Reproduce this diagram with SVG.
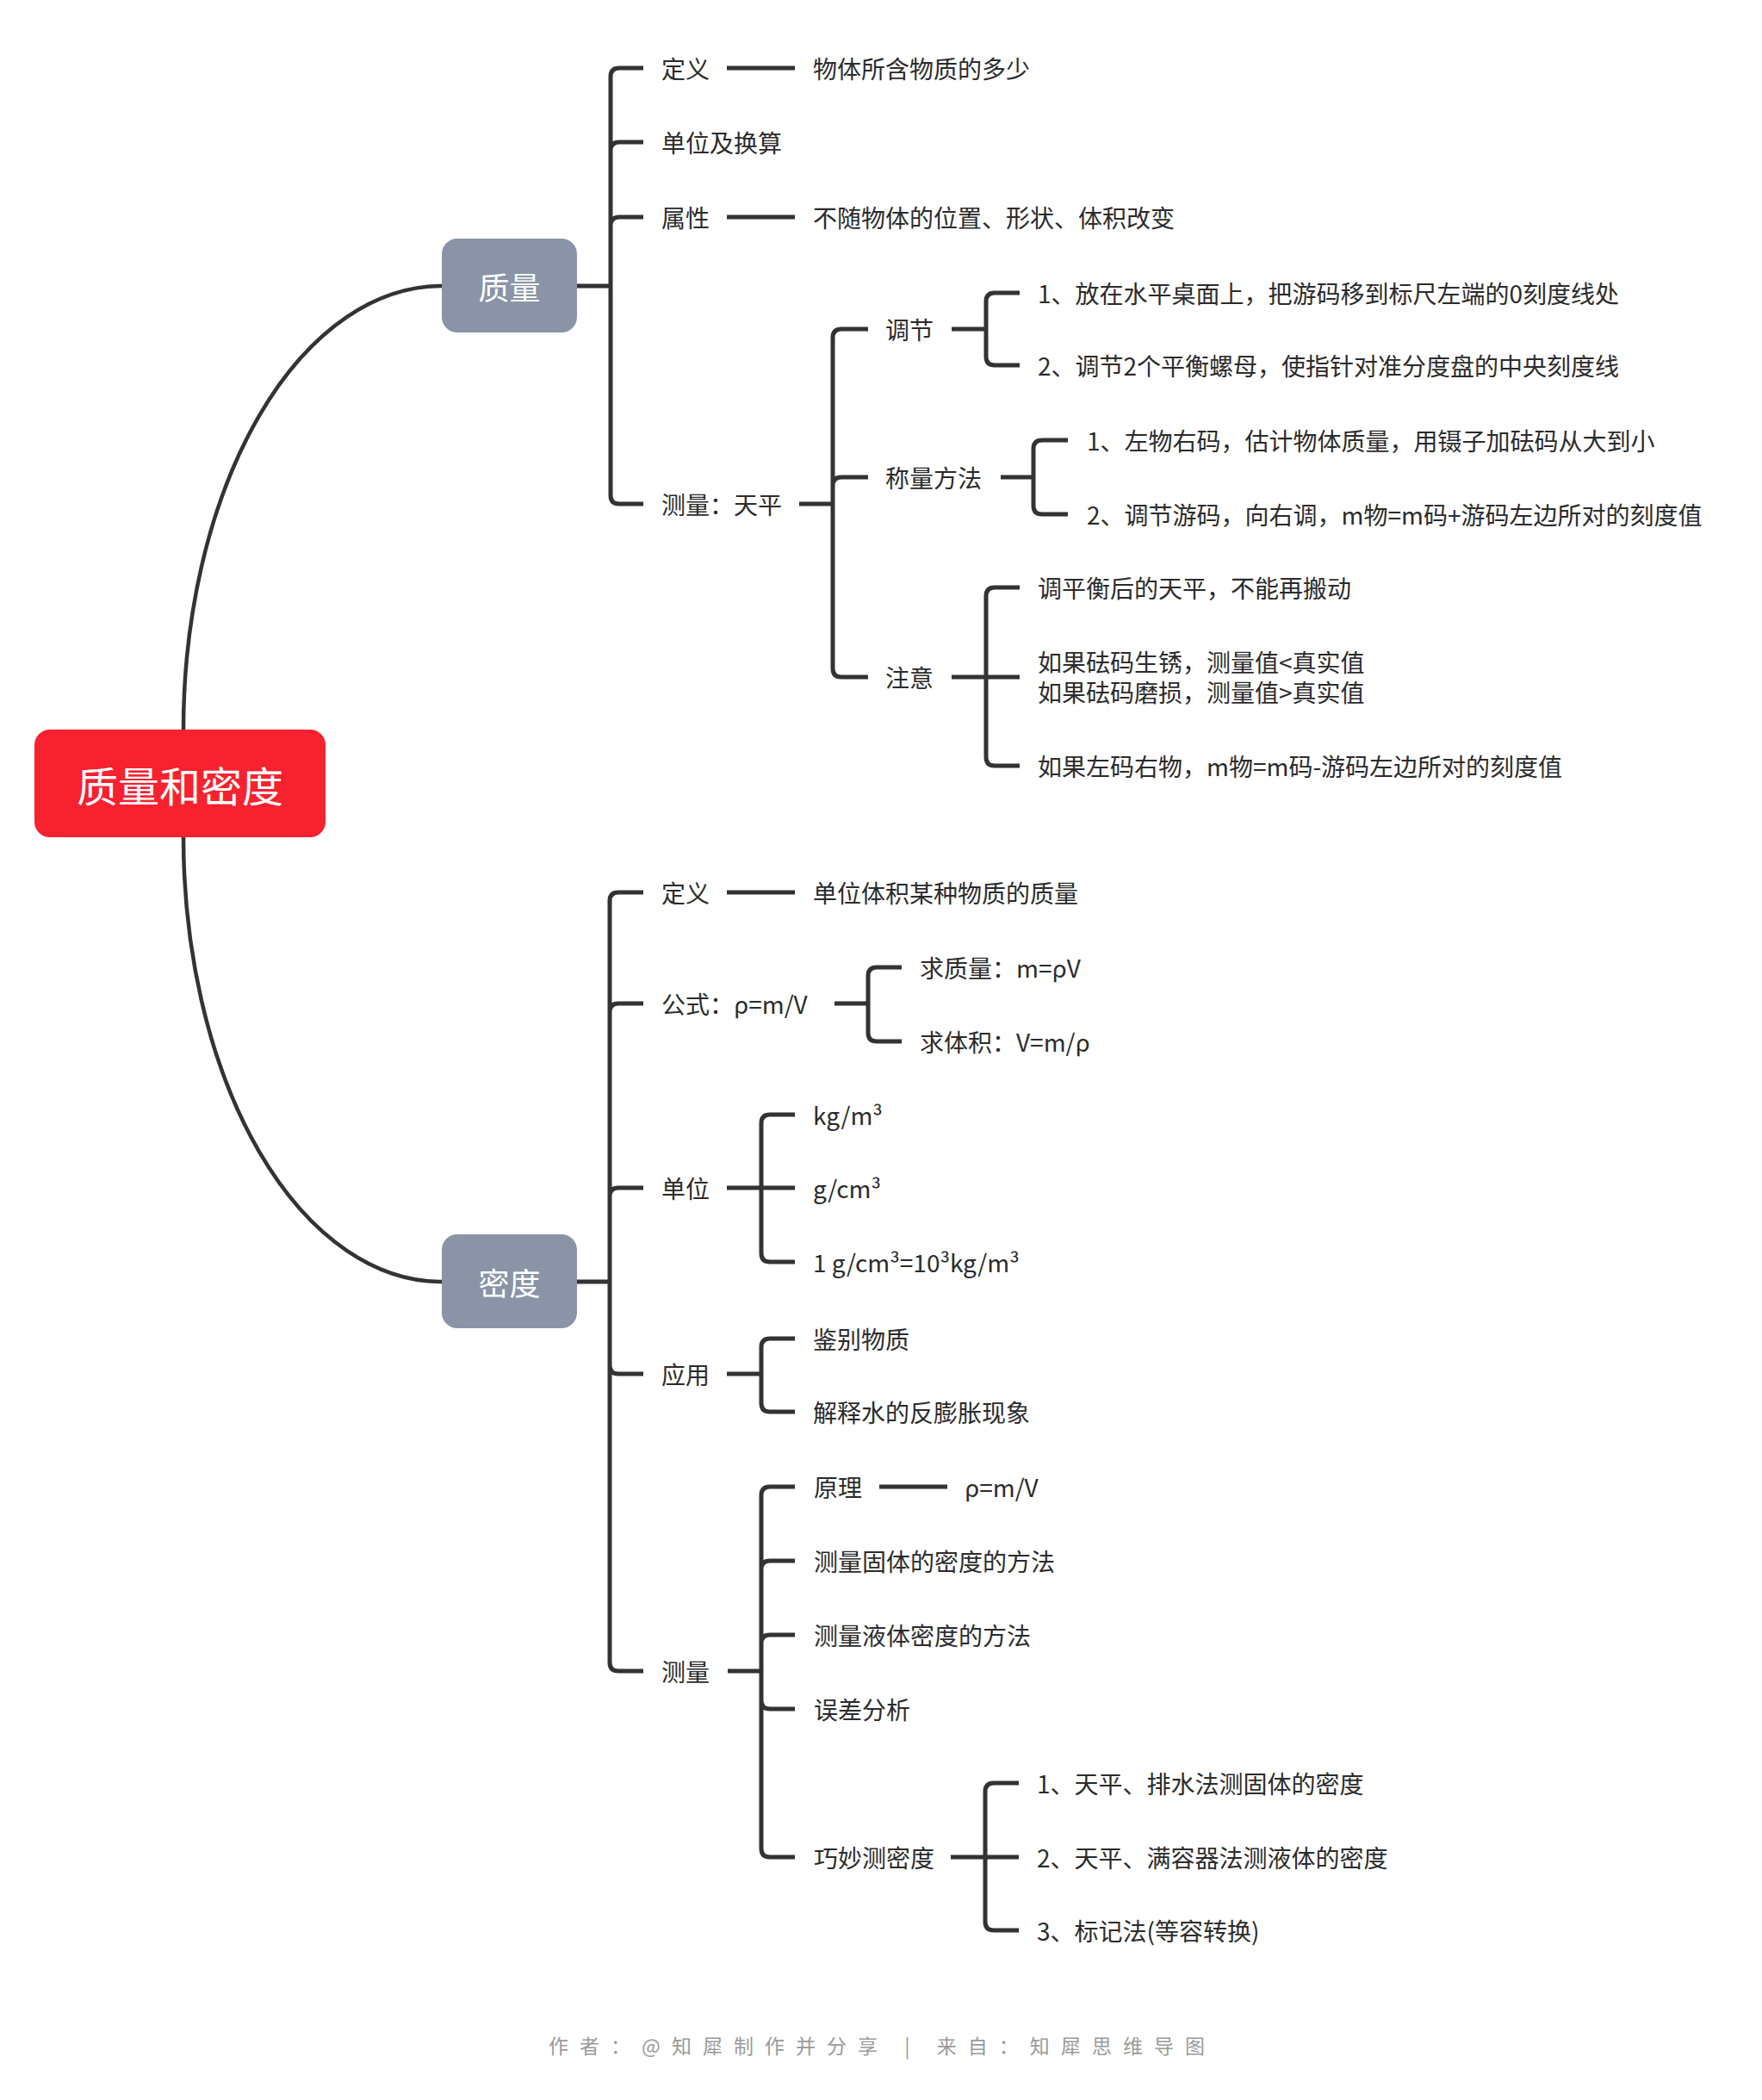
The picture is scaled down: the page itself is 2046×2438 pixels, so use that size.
<svg xmlns="http://www.w3.org/2000/svg" width="2046" height="2438" viewBox="0 0 2046 2438">
<style>
.t{font-family:"Noto Sans CJK SC","Noto Sans",sans-serif;font-size:28px;fill:#2b2b2b;dominant-baseline:central}
.ln{fill:none;stroke:#333;stroke-width:5;stroke-linecap:butt}
.cv{fill:none;stroke:#333;stroke-width:4.5}
.sub{fill:#8a94a6}
.st{font-family:"Noto Sans CJK SC","Noto Sans",sans-serif;font-size:36px;fill:#fff;text-anchor:middle;dominant-baseline:central}
</style>
<rect width="2046" height="2438" fill="#fff"/>
<g id="connectors">
<path class="cv" d="M213 847 A300 515 0 0 1 513 332"/>
<path class="cv" d="M213 972 A300 516 0 0 0 513 1488"/>
<path class="ln" d="M670 332 H709 M709 332 V89 Q709 79 719 79 H747 M709 332 V175 Q709 165 719 165 H747 M709 332 V262 Q709 252 719 252 H747 M709 332 V575 Q709 585 719 585 H747"/>
<path class="ln" d="M844 79 H923 M844 252 H923"/>
<path class="ln" d="M928 585 H967 M967 585 V392 Q967 382 977 382 H1008 M967 585 V564 Q967 554 977 554 H1008 M967 585 V776 Q967 786 977 786 H1008"/>
<path class="ln" d="M1105 382 H1145 M1145 382 V350 Q1145 340 1155 340 H1184 M1145 382 V414 Q1145 424 1155 424 H1184"/>
<path class="ln" d="M1162 554 H1200 M1200 554 V521 Q1200 511 1210 511 H1240 M1200 554 V587 Q1200 597 1210 597 H1240"/>
<path class="ln" d="M1105 786 H1145 M1145 786 V692 Q1145 682 1155 682 H1184 M1145 786 H1184 M1145 786 V879 Q1145 889 1155 889 H1184"/>
<path class="ln" d="M670 1488 H708 M708 1488 V1046 Q708 1036 718 1036 H747 M708 1488 V1175 Q708 1165 718 1165 H747 M708 1488 V1389 Q708 1379 718 1379 H747 M708 1488 V1585 Q708 1595 718 1595 H747 M708 1488 V1930 Q708 1940 718 1940 H747"/>
<path class="ln" d="M844 1036 H923"/>
<path class="ln" d="M969 1165 H1008 M1008 1165 V1133 Q1008 1123 1018 1123 H1047 M1008 1165 V1199 Q1008 1209 1018 1209 H1047"/>
<path class="ln" d="M844 1379 H884 M884 1379 V1304 Q884 1294 894 1294 H923 M884 1379 H923 M884 1379 V1455 Q884 1465 894 1465 H923"/>
<path class="ln" d="M844 1595 H884 M884 1595 V1564 Q884 1554 894 1554 H923 M884 1595 V1629 Q884 1639 894 1639 H923"/>
<path class="ln" d="M845 1940 H884 M884 1940 V1736 Q884 1726 894 1726 H923 M884 1940 V1822 Q884 1812 894 1812 H923 M884 1940 V1908 Q884 1898 894 1898 H923 M884 1940 V1974 Q884 1984 894 1984 H923 M884 1940 V2146 Q884 2156 894 2156 H923"/>
<path class="ln" d="M1021 1726 H1100"/>
<path class="ln" d="M1104 2156 H1144 M1144 2156 V2080 Q1144 2070 1154 2070 H1183 M1144 2156 H1183 M1144 2156 V2231 Q1144 2241 1154 2241 H1183"/>
</g>
<g id="root">
<rect x="40" y="847" width="338" height="125" rx="18" fill="#f7212f"/>
<text x="209" y="910" font-family="Noto Sans CJK SC, sans-serif" font-size="48" fill="#fff" text-anchor="middle" dominant-baseline="central">质量和密度</text>
</g>
<g id="n-zhiliang"><rect class="sub" x="513" y="277" width="157" height="109" rx="18"/><text class="st" x="591.5" y="332">质量</text></g>
<g id="n-midu"><rect class="sub" x="513" y="1433" width="157" height="109" rx="18"/><text class="st" x="591.5" y="1488">密度</text></g>
<g id="mass-items">
<text class="t" x="768" y="79">定义</text>
<text class="t" x="944" y="79">物体所含物质的多少</text>
<text class="t" x="768" y="165">单位及换算</text>
<text class="t" x="768" y="252">属性</text>
<text class="t" x="944" y="252">不随物体的位置、形状、体积改变</text>
<text class="t" x="768" y="585">测量：天平</text>
<text class="t" x="1028" y="382">调节</text>
<text class="t" x="1205" y="340">1、放在水平桌面上，把游码移到标尺左端的0刻度线处</text>
<text class="t" x="1205" y="424">2、调节2个平衡螺母，使指针对准分度盘的中央刻度线</text>
<text class="t" x="1028" y="554">称量方法</text>
<text class="t" x="1262" y="511">1、左物右码，估计物体质量，用镊子加砝码从大到小</text>
<text class="t" x="1262" y="597">2、调节游码，向右调，m物=m码+游码左边所对的刻度值</text>
<text class="t" x="1028" y="786">注意</text>
<text class="t" x="1205" y="682">调平衡后的天平，不能再搬动</text>
<text class="t" x="1205" y="768"><tspan x="1205" y="768">如果砝码生锈，测量值&lt;真实值</tspan><tspan x="1205" y="803">如果砝码磨损，测量值&gt;真实值</tspan></text>
<text class="t" x="1205" y="889">如果左码右物，m物=m码-游码左边所对的刻度值</text>
</g>
<g id="density-items">
<text class="t" x="768" y="1036">定义</text>
<text class="t" x="944" y="1036">单位体积某种物质的质量</text>
<text class="t" x="768" y="1165">公式：ρ=m/V</text>
<text class="t" x="1068" y="1123">求质量：m=ρV</text>
<text class="t" x="1068" y="1209">求体积：V=m/ρ</text>
<text class="t" x="768" y="1379">单位</text>
<text class="t" x="944" y="1294">kg/m³</text>
<text class="t" x="944" y="1379">g/cm³</text>
<text class="t" x="944" y="1465">1 g/cm³=10³kg/m³</text>
<text class="t" x="768" y="1595">应用</text>
<text class="t" x="944" y="1554">鉴别物质</text>
<text class="t" x="944" y="1639">解释水的反膨胀现象</text>
<text class="t" x="768" y="1940">测量</text>
<text class="t" x="945" y="1726">原理</text>
<text class="t" x="1120" y="1726">ρ=m/V</text>
<text class="t" x="945" y="1812">测量固体的密度的方法</text>
<text class="t" x="945" y="1898">测量液体密度的方法</text>
<text class="t" x="945" y="1984">误差分析</text>
<text class="t" x="945" y="2156">巧妙测密度</text>
<text class="t" x="1204" y="2070">1、天平、排水法测固体的密度</text>
<text class="t" x="1204" y="2156">2、天平、满容器法测液体的密度</text>
<text class="t" x="1204" y="2241">3、标记法(等容转换)</text>
</g>
<text x="637" y="2374" font-family="Noto Sans CJK SC, sans-serif" font-size="23" fill="#9a9a9a" dominant-baseline="central" textLength="762" lengthAdjust="spacing">作者：@知犀制作并分享 | 来自：知犀思维导图</text>
</svg>
